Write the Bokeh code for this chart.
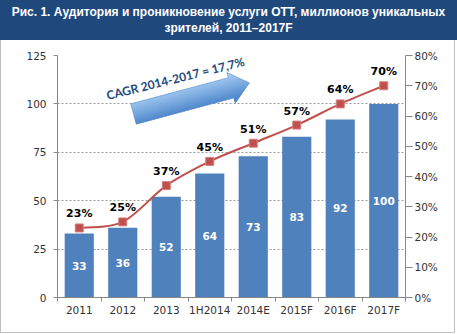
import math
import numpy as np
from bokeh.plotting import figure
from bokeh.models import Range1d, LinearAxis, FixedTicker, Div
from bokeh.layouts import column
from bokeh.embed import file_html
from bokeh.resources import INLINE
from bokeh.core.properties import value

# ---------------- data ----------------
categories = ["2011", "2012", "2013", "1H2014", "2014E", "2015F", "2016F", "2017F"]
audience = [33, 36, 52, 64, 73, 83, 92, 100]          # millions of unique viewers
penetration = [23, 25, 37, 45, 51, 57, 64, 70]        # %
left_ticks = [0, 25, 50, 75, 100, 125]
right_ticks = [0, 10, 20, 30, 40, 50, 60, 70, 80]
title_line1 = "Рис. 1. Аудитория и проникновение услуги ОТТ, миллионов уникальных"
title_line2 = "зрителей, 2011–2017F"
cagr_text = "CAGR 2014-2017 = 17,7%"

# ---------------- styles ----------------
BAR = "#4F81BD"
LINE = "#C0504D"
AXIS = "#868686"
TICKTXT = "#333333"
TICKFONT = "DejaVu Sans"

n = len(categories)
xs = list(range(n))

# frame geometry (page pixels) used for the decorative arrow
FL, FR, FT, FB = 57, 405, 55, 297
YMAX = left_ticks[-1]
XMIN, XMAX = -0.5, n - 0.5
PW, PH = 455, 293   # figure canvas (inside 1px border at left/right/bottom)


def to_data(px, py):
    return (XMIN + (px - FL) / (FR - FL) * (XMAX - XMIN),
            (FB - py) / (FB - FT) * YMAX)


title = Div(
    text=f"{title_line1}<br>{title_line2}",
    width=457, height=40, margin=0,
    styles={"background-color": "#1F497D", "color": "white",
            "font-family": "'Liberation Sans', Arial, sans-serif",
            "font-weight": "bold", "font-size": "12px", "line-height": "16px",
            "text-align": "center", "padding": "4px 0 0 0", "box-sizing": "border-box",
            "white-space": "nowrap", "overflow": "hidden"},
)

p = figure(width=PW, height=PH, x_range=Range1d(XMIN, XMAX), y_range=Range1d(0, YMAX),
           output_backend="svg", toolbar_location=None, title=None,
           min_border_left=FL - 1, min_border_right=PW + 1 - FR,
           min_border_top=FT - 40, min_border_bottom=PH - (FB - 40))
p.styles = {"border-left": "1px solid #BFBFBF", "border-right": "1px solid #BFBFBF",
            "border-bottom": "1px solid #BFBFBF"}
p.extra_y_ranges = {"pct": Range1d(0, right_ticks[-1])}
p.outline_line_color = None
p.background_fill_color = "white"
p.border_fill_color = "white"

# grid
p.xgrid.visible = False
p.ygrid.ticker = FixedTicker(ticks=left_ticks)
p.ygrid.grid_line_color = "#9A9A9A"
p.ygrid.grid_line_dash = "2 2"
p.ygrid.grid_line_width = 1

# bars
p.vbar(x=xs, top=audience, width=0.67, fill_color=BAR, line_color=None)
p.text(x=xs, y=[v / 2 for v in audience], text=[str(v) for v in audience],
       text_color="white", text_font=value("DejaVu Sans"), text_font_style="bold",
       text_font_size="10.5px", text_align="center", text_baseline="middle")

# smoothed penetration line (cubic Bezier through the data points)
pts = list(zip(xs, penetration))
x0, y0, x1, y1, cx0, cy0, cx1, cy1 = ([] for _ in range(8))
for i in range(n - 1):
    pm = pts[max(i - 1, 0)]
    pa = pts[i]
    pb = pts[i + 1]
    pn = pts[min(i + 2, n - 1)]
    x0.append(pa[0]); y0.append(pa[1]); x1.append(pb[0]); y1.append(pb[1])
    cx0.append(pa[0] + (pb[0] - pm[0]) / 6); cy0.append(pa[1] + (pb[1] - pm[1]) / 6)
    cx1.append(pb[0] - (pn[0] - pa[0]) / 6); cy1.append(pb[1] - (pn[1] - pa[1]) / 6)
p.bezier(x0=x0, y0=y0, x1=x1, y1=y1, cx0=cx0, cy0=cy0, cx1=cx1, cy1=cy1,
         line_color=LINE, line_width=2, y_range_name="pct")
p.scatter(x=xs, y=penetration, marker="square", size=8, fill_color=LINE,
          line_color="#D4807E", line_width=1, y_range_name="pct")
p.text(x=xs, y=penetration, text=[f"{v}%" for v in penetration], y_offset=-14,
       text_color="black", text_font=value("DejaVu Sans"), text_font_style="bold",
       text_font_size="11px", text_align="center", text_baseline="middle",
       y_range_name="pct")

# decorative CAGR arrow with a vertical gradient (built from bands)
ang = math.radians(15)
cxp, cyp = 133, 113.5
L, Ls, w, H = 120, 101, 10.5, 16
poly = [(0, -w), (Ls, -w), (Ls, -H), (L, 0), (Ls, H), (Ls, w), (0, w)]


def clip(polygon, v, keep_above):
    out = []
    m = len(polygon)
    for k in range(m):
        a = polygon[k]
        b = polygon[(k + 1) % m]
        ina = a[1] >= v if keep_above else a[1] <= v
        inb = b[1] >= v if keep_above else b[1] <= v
        if ina:
            out.append(a)
        if ina != inb:
            t = (v - a[1]) / (b[1] - a[1])
            out.append((a[0] + t * (b[0] - a[0]), v))
    return out


def to_px(u, v):
    return (cxp + u * math.cos(ang) - v * math.sin(ang),
            cyp - u * math.sin(ang) - v * math.cos(ang))


c_bot = np.array([0x3C, 0x78, 0xC3])
c_top = np.array([0xAC, 0xD2, 0xF6])
nb = 18
bxs, bys, bcols = [], [], []
for b in range(nb):
    v0 = -H + 2 * H * b / nb
    v1 = -H + 2 * H * (b + 1) / nb
    band = clip(clip(poly, v0 - 0.3, True), v1 + 0.3, False)
    if len(band) < 3:
        continue
    dpts = [to_data(*to_px(u, v)) for u, v in band]
    bxs.append([d[0] for d in dpts]); bys.append([d[1] for d in dpts])
    t = (b + 0.5) / nb
    c = (c_bot + (c_top - c_bot) * t).astype(int)
    bcols.append("#%02x%02x%02x" % tuple(c))
p.patches(xs=bxs, ys=bys, fill_color=bcols, line_color=None)
opts = [to_data(*to_px(u, v)) for u, v in poly]
p.patch(x=[d[0] for d in opts], y=[d[1] for d in opts], fill_color=None,
        line_color="#5B8FCF", line_width=0.6)

tx, ty = to_data(175, 78)
p.text(x=[tx], y=[ty], text=[cagr_text], angle=14, angle_units="deg",
       text_color="#1F497D", text_font=value("Lato"), text_font_style="bold",
       text_font_size="12px", text_align="center", text_baseline="middle")

# axes
xa = p.xaxis[0]
xa.ticker = FixedTicker(ticks=xs, minor_ticks=[i - 0.5 for i in range(n + 1)])
xa.major_label_overrides = {i: c for i, c in enumerate(categories)}
xa.major_tick_out = 0
xa.major_tick_in = 0
xa.minor_tick_out = 4
xa.minor_tick_in = 0
xa.major_label_standoff = 2

ya = p.yaxis[0]
ya.ticker = FixedTicker(ticks=left_ticks)
ya.major_tick_out = 4
ya.major_tick_in = 0
ya.major_label_standoff = 7

ra = LinearAxis(y_range_name="pct", ticker=FixedTicker(ticks=right_ticks),
                major_label_overrides={t: f"{t}%" for t in right_ticks})
ra.major_tick_out = 7
ra.major_tick_in = 0
ra.major_label_standoff = 2
p.add_layout(ra, "right")

for ax in (xa, ya, ra):
    ax.axis_line_color = AXIS
    ax.major_tick_line_color = AXIS
    ax.minor_tick_line_color = AXIS if ax is xa else None
    ax.major_label_text_color = TICKTXT
    ax.major_label_text_font = TICKFONT
    ax.major_label_text_font_size = "10.5px"

layout = column(title, p, spacing=0)
open("out.html", "w").write(file_html(layout, INLINE))
